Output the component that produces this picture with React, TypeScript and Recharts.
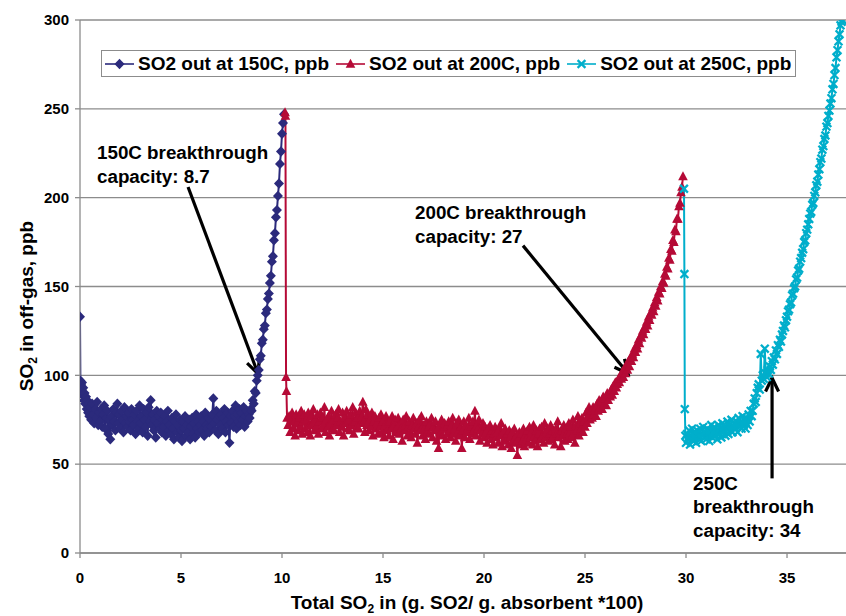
import React from 'react';
import { LineChart, Line, XAxis, YAxis, CartesianGrid, Legend, ReferenceLine } from 'recharts';

// SO2 breakthrough readings, [total SO2 in, ppb out]
const so2At150: [number, number][] = [
  [0, 133], [0.02, 97], [0.05, 95], [0.08, 92], [0.1, 96], [0.13, 89], [0.16, 93], [0.2, 86], [0.23, 90], [0.26, 84],
  [0.3, 88], [0.33, 81], [0.36, 86], [0.4, 79], [0.43, 84], [0.46, 77],
  [0.5, 82], [0.55, 75], [0.6, 84], [0.65, 78], [0.7, 73], [0.75, 81], [0.8, 76], [0.85, 85], [0.9, 72], [0.95, 79],
  [1.0, 74], [1.05, 81], [1.1, 71], [1.15, 78], [1.2, 83], [1.25, 70], [1.3, 76], [1.35, 80], [1.4, 67], [1.45, 75],
  [1.5, 64], [1.55, 77], [1.6, 72], [1.65, 81], [1.7, 74], [1.75, 69], [1.8, 79], [1.85, 84], [1.9, 73], [1.95, 78],
  [2.0, 70], [2.05, 80], [2.1, 75], [2.15, 68], [2.2, 82], [2.25, 73], [2.3, 77], [2.35, 71], [2.4, 79], [2.45, 74],
  [2.5, 69], [2.55, 81], [2.6, 75], [2.65, 72], [2.7, 78], [2.75, 67], [2.8, 80], [2.85, 74], [2.9, 70], [2.95, 83],
  [3.0, 73], [3.05, 77], [3.1, 68], [3.15, 81], [3.2, 75], [3.25, 71], [3.3, 79], [3.35, 66], [3.4, 82], [3.45, 74],
  [3.5, 86], [3.55, 72], [3.6, 78], [3.65, 69], [3.7, 75], [3.75, 65], [3.8, 80], [3.85, 73], [3.9, 77], [3.95, 70],
  [4.0, 79], [4.05, 68], [4.1, 75], [4.15, 71], [4.2, 77], [4.25, 66], [4.3, 74], [4.35, 80], [4.4, 69], [4.45, 72],
  [4.5, 67], [4.55, 76], [4.6, 70], [4.65, 64], [4.7, 74], [4.75, 78], [4.8, 68], [4.85, 72], [4.9, 65], [4.95, 75],
  [5.0, 69], [5.05, 63], [5.1, 74], [5.15, 70], [5.2, 77], [5.25, 66], [5.3, 72], [5.35, 68], [5.4, 75], [5.45, 64],
  [5.5, 71], [5.55, 76], [5.6, 67], [5.65, 73], [5.7, 65], [5.75, 78], [5.8, 70], [5.85, 74], [5.9, 68], [5.95, 72],
  [6.0, 77], [6.05, 69], [6.1, 74], [6.15, 66], [6.2, 79], [6.25, 72], [6.3, 70], [6.35, 76], [6.4, 68], [6.45, 75],
  [6.5, 71], [6.55, 78], [6.6, 87], [6.65, 73], [6.7, 69], [6.75, 80], [6.8, 75], [6.85, 67], [6.9, 77], [6.95, 72],
  [7.0, 78], [7.05, 70], [7.1, 76], [7.15, 81], [7.2, 68], [7.25, 74], [7.3, 79], [7.35, 72], [7.4, 62], [7.45, 77],
  [7.5, 73], [7.55, 80], [7.6, 71], [7.65, 77], [7.7, 83], [7.75, 70], [7.8, 78], [7.85, 74], [7.9, 81], [7.95, 72],
  [8.0, 79], [8.05, 75], [8.1, 82], [8.15, 71], [8.2, 77], [8.25, 80], [8.3, 74], [8.35, 78], [8.4, 76], [8.45, 81],
  [8.5, 80], [8.55, 86], [8.6, 84], [8.65, 91], [8.7, 90], [8.75, 97], [8.8, 100], [8.85, 103], [8.9, 109], [8.95, 111],
  [9.0, 118], [9.05, 120], [9.1, 126], [9.15, 128], [9.2, 135], [9.25, 137], [9.3, 143], [9.35, 146], [9.4, 152], [9.45, 156],
  [9.5, 164], [9.55, 167], [9.6, 176], [9.65, 180], [9.7, 189], [9.75, 193], [9.8, 201], [9.85, 208], [9.9, 219], [9.95, 226],
  [10.0, 236], [10.05, 242], [10.1, 247],
];

const so2At200: [number, number][] = [
  [10.15, 248], [10.17, 246], [10.2, 99], [10.22, 91], [10.25, 76],
  [10.3, 72], [10.35, 77], [10.4, 68], [10.45, 75], [10.5, 79], [10.55, 70], [10.6, 74], [10.65, 66], [10.7, 78], [10.75, 73],
  [10.8, 69], [10.85, 76], [10.9, 71], [10.95, 80], [11.0, 67], [11.05, 74], [11.1, 78], [11.15, 70], [11.2, 75], [11.25, 68],
  [11.3, 79], [11.35, 72], [11.4, 66], [11.45, 77], [11.5, 73], [11.55, 81], [11.6, 69], [11.65, 75], [11.7, 71], [11.75, 78],
  [11.8, 67], [11.85, 74], [11.9, 79], [11.95, 70], [12.0, 76], [12.05, 72], [12.1, 82], [12.15, 68], [12.2, 75], [12.25, 71],
  [12.3, 77], [12.35, 66], [12.4, 73], [12.45, 80], [12.5, 70], [12.55, 75], [12.6, 69], [12.65, 78], [12.7, 72], [12.75, 76],
  [12.8, 81], [12.85, 68], [12.9, 74], [12.95, 71], [13.0, 79], [13.05, 66], [13.1, 76], [13.15, 73], [13.2, 80], [13.25, 70],
  [13.3, 75], [13.35, 69], [13.4, 78], [13.45, 72], [13.5, 82], [13.55, 67], [13.6, 74], [13.65, 79], [13.7, 71], [13.75, 76],
  [13.8, 70], [13.85, 80], [13.9, 73], [13.95, 77], [14.0, 85], [14.05, 74], [14.1, 68], [14.15, 81], [14.2, 72], [14.25, 78],
  [14.3, 69], [14.35, 75], [14.4, 71], [14.45, 79], [14.5, 66], [14.55, 74], [14.6, 77], [14.65, 70], [14.7, 73], [14.75, 67],
  [14.8, 76], [14.85, 71], [14.9, 78], [14.95, 68], [15.0, 74], [15.05, 65], [15.1, 72], [15.15, 77], [15.2, 69], [15.25, 73],
  [15.3, 66], [15.35, 74], [15.4, 70], [15.45, 77], [15.5, 64], [15.55, 72], [15.6, 75], [15.65, 68], [15.7, 71], [15.75, 76],
  [15.8, 67], [15.85, 73], [15.9, 70], [15.95, 63], [16.0, 75], [16.05, 69], [16.1, 72], [16.15, 77], [16.2, 66], [16.25, 71],
  [16.3, 74], [16.35, 68], [16.4, 65], [16.45, 72], [16.5, 76], [16.55, 70], [16.6, 67], [16.65, 73], [16.7, 62], [16.75, 71],
  [16.8, 75], [16.85, 69], [16.9, 77], [16.95, 66], [17.0, 72], [17.05, 70], [17.1, 64], [17.15, 74], [17.2, 68], [17.25, 71],
  [17.3, 67], [17.35, 73], [17.4, 76], [17.45, 65], [17.5, 71], [17.55, 69], [17.6, 74], [17.65, 63], [17.7, 70], [17.75, 59],
  [17.8, 72], [17.85, 68], [17.9, 75], [17.95, 66], [18.0, 70], [18.05, 73], [18.1, 64], [18.15, 71], [18.2, 67], [18.25, 74],
  [18.3, 69], [18.35, 65], [18.4, 72], [18.45, 76], [18.5, 67], [18.55, 70], [18.6, 63], [18.65, 73], [18.7, 68], [18.75, 75],
  [18.8, 66], [18.85, 71], [18.9, 59], [18.95, 69], [19.0, 74], [19.05, 65], [19.1, 72], [19.15, 68], [19.2, 70], [19.25, 76],
  [19.3, 64], [19.35, 71], [19.4, 67], [19.45, 74], [19.5, 69], [19.55, 80], [19.6, 66], [19.65, 72], [19.7, 70], [19.75, 75],
  [19.8, 63], [19.85, 69], [19.9, 67], [19.95, 73], [20.0, 65], [20.05, 71], [20.1, 68], [20.15, 62], [20.2, 70], [20.25, 66],
  [20.3, 72], [20.35, 64], [20.4, 69], [20.45, 61], [20.5, 67], [20.55, 71], [20.6, 65], [20.65, 68], [20.7, 62], [20.75, 70],
  [20.8, 66], [20.85, 73], [20.9, 60], [20.95, 68], [21.0, 64], [21.05, 70], [21.1, 63], [21.15, 67], [21.2, 61], [21.25, 69],
  [21.3, 65], [21.35, 59], [21.4, 68], [21.45, 63], [21.5, 70], [21.55, 62], [21.6, 66], [21.65, 55], [21.7, 64], [21.75, 68],
  [21.8, 61], [21.85, 67], [21.9, 63], [21.95, 70], [22.0, 60], [22.05, 66], [22.1, 64], [22.15, 69], [22.2, 62], [22.25, 71],
  [22.3, 65], [22.35, 68], [22.4, 61], [22.45, 72], [22.5, 66], [22.55, 63], [22.6, 69], [22.65, 60], [22.7, 67], [22.75, 70],
  [22.8, 64], [22.85, 71], [22.9, 66], [22.95, 62], [23.0, 73], [23.05, 65], [23.1, 68], [23.15, 70], [23.2, 63], [23.25, 67],
  [23.3, 72], [23.35, 64], [23.4, 69], [23.45, 66], [23.5, 61], [23.55, 70], [23.6, 67], [23.65, 74], [23.7, 65], [23.75, 68],
  [23.8, 60], [23.85, 69], [23.9, 66], [23.95, 72], [24.0, 63], [24.05, 70], [24.1, 67], [24.15, 64], [24.2, 73], [24.25, 68],
  [24.3, 71], [24.35, 65], [24.4, 75], [24.45, 68], [24.5, 62], [24.55, 72], [24.6, 69], [24.65, 77], [24.7, 66], [24.75, 73],
  [24.8, 70], [24.85, 76], [24.9, 68], [24.95, 74], [25.0, 71], [25.05, 79], [25.1, 73], [25.15, 77], [25.2, 82], [25.25, 75],
  [25.3, 80], [25.35, 76], [25.4, 82], [25.45, 78], [25.5, 81], [25.55, 77], [25.6, 84], [25.65, 80], [25.7, 86], [25.75, 82],
  [25.8, 85], [25.85, 81], [25.9, 88], [25.95, 84], [26.0, 87], [26.05, 83], [26.1, 90], [26.15, 86], [26.2, 89], [26.25, 88],
  [26.3, 92], [26.35, 89], [26.4, 94], [26.45, 91], [26.5, 96], [26.55, 93], [26.6, 95], [26.65, 98], [26.7, 96], [26.75, 100],
  [26.8, 98], [26.85, 102], [26.9, 99], [26.95, 104], [27.0, 101], [27.05, 106], [27.1, 103], [27.15, 108], [27.2, 105], [27.25, 110],
  [27.3, 108], [27.35, 112], [27.4, 110], [27.45, 115], [27.5, 113], [27.55, 117], [27.6, 115], [27.65, 120], [27.7, 118], [27.75, 122],
  [27.8, 121], [27.85, 125], [27.9, 123], [27.95, 127], [28.0, 126], [28.05, 130], [28.1, 128], [28.15, 133], [28.2, 131], [28.25, 135],
  [28.3, 134], [28.35, 138], [28.4, 136], [28.45, 141], [28.5, 139], [28.55, 144], [28.6, 142], [28.65, 147], [28.7, 146], [28.75, 150],
  [28.8, 149], [28.85, 153], [28.9, 152], [28.95, 157], [29.0, 156], [29.05, 161], [29.1, 160], [29.15, 166], [29.2, 165], [29.25, 171],
  [29.3, 170], [29.35, 176], [29.4, 175], [29.45, 182], [29.5, 181], [29.55, 188], [29.6, 188], [29.65, 195], [29.7, 197], [29.75, 203],
  [29.8, 206], [29.85, 212],
];

const so2At250: [number, number][] = [
  [29.9, 205], [29.92, 157], [29.94, 81], [29.97, 66],
  [30.0, 62], [30.05, 67], [30.1, 64], [30.15, 69], [30.2, 61], [30.25, 66], [30.3, 70], [30.35, 63], [30.4, 68], [30.45, 65],
  [30.5, 62], [30.55, 69], [30.6, 66], [30.65, 64], [30.7, 70], [30.75, 63], [30.8, 67], [30.85, 71], [30.9, 65], [30.95, 68],
  [31.0, 64], [31.05, 70], [31.1, 66], [31.15, 63], [31.2, 69], [31.25, 72], [31.3, 65], [31.35, 68], [31.4, 71], [31.45, 66],
  [31.5, 69], [31.55, 64], [31.6, 72], [31.65, 67], [31.7, 70], [31.75, 65], [31.8, 73], [31.85, 68], [31.9, 71], [31.95, 66],
  [32.0, 70], [32.05, 74], [32.1, 67], [32.15, 72], [32.2, 69], [32.25, 75], [32.3, 68], [32.35, 71], [32.4, 73], [32.45, 70],
  [32.5, 74], [32.55, 68], [32.6, 76], [32.65, 71], [32.7, 73], [32.75, 70], [32.8, 77], [32.85, 72], [32.9, 75], [32.95, 70],
  [33.0, 76], [33.05, 72], [33.1, 78], [33.15, 74], [33.2, 80], [33.25, 77],
  [33.3, 80], [33.35, 84], [33.4, 87], [33.45, 85], [33.5, 90], [33.55, 93], [33.6, 95], [33.65, 92], [33.7, 112], [33.75, 97],
  [33.8, 100], [33.85, 98], [33.9, 115], [33.95, 101], [34.0, 99], [34.05, 103], [34.1, 101], [34.15, 105], [34.2, 103], [34.25, 108],
  [34.3, 106], [34.35, 110], [34.4, 109], [34.45, 114], [34.5, 112], [34.55, 117], [34.6, 116], [34.65, 120], [34.7, 119], [34.75, 123],
  [34.8, 125], [34.85, 128], [34.9, 127], [34.95, 131], [35.0, 133], [35.05, 136], [35.1, 137], [35.15, 140], [35.2, 141], [35.25, 145],
  [35.3, 146], [35.35, 149], [35.4, 150], [35.45, 154], [35.5, 155], [35.55, 159], [35.6, 160], [35.65, 164], [35.7, 166], [35.75, 169],
  [35.8, 171], [35.85, 175], [35.9, 176], [35.95, 180], [36.0, 182], [36.05, 185], [36.1, 188], [36.15, 191], [36.2, 192], [36.25, 196],
  [36.3, 197], [36.35, 201], [36.4, 203], [36.45, 207], [36.5, 209], [36.55, 213], [36.6, 216], [36.65, 220], [36.7, 222], [36.75, 227],
  [36.8, 229], [36.85, 233], [36.9, 235], [36.95, 240], [37.0, 242], [37.05, 246], [37.1, 249], [37.15, 253], [37.2, 256], [37.25, 261],
  [37.3, 264], [37.35, 269], [37.4, 273], [37.45, 279], [37.5, 283], [37.55, 288], [37.6, 292], [37.65, 297], [37.7, 299], [37.75, 300],
];

const xTicks = [0, 5, 10, 15, 20, 25, 30, 35];
const yTicks = [0, 50, 100, 150, 200, 250, 300];
const seriesNames = ['SO2 out at 150C, ppb', 'SO2 out at 200C, ppb', 'SO2 out at 250C, ppb'];
const seriesColors = ['#2b2a7c', '#b50a36', '#00aecb'];

// breakthrough arrows: [from, to] in data units
const arrows = [
  [{ x: 5.35, y: 206 }, { x: 8.81, y: 101 }],
  [{ x: 21.93, y: 173 }, { x: 27.13, y: 101 }],
  [{ x: 34.26, y: 42 }, { x: 34.26, y: 98.5 }],
];

const FONT = '"Liberation Sans", Arial, sans-serif';
const GRID = '#8c8c8c';

const toRows = (pts: [number, number][]) => pts.map(([x, y]) => ({ x, y }));

const Marker = ({ kind, cx, cy, color }: { kind: number; cx: number; cy: number; color: string }) => {
  if (kind === 0) {
    return <polygon points={`${cx},${cy - 5.2} ${cx + 5},${cy} ${cx},${cy + 5.2} ${cx - 5},${cy}`} fill={color} />;
  }
  if (kind === 1) {
    return <polygon points={`${cx},${cy - 5.2} ${cx + 4.8},${cy + 3.8} ${cx - 4.8},${cy + 3.8}`} fill={color} />;
  }
  return (
    <g stroke={color} strokeWidth={2.3}>
      <line x1={cx - 3.9} y1={cy - 3.9} x2={cx + 3.9} y2={cy + 3.9} />
      <line x1={cx - 3.9} y1={cy + 3.9} x2={cx + 3.9} y2={cy - 3.9} />
    </g>
  );
};

const makeDot = (kind: number) => (props: any) => {
  const { cx, cy, index } = props;
  if (cx == null || cy == null) return <g key={`d${kind}-${index}`} />;
  return (
    <g key={`d${kind}-${index}`}>
      <Marker kind={kind} cx={cx} cy={cy} color={seriesColors[kind]} />
    </g>
  );
};

const Arrow = (props: any) => {
  const { x1, y1, x2, y2 } = props;
  const ang = Math.atan2(y2 - y1, x2 - x1);
  const len = 15;
  const spread = 0.45;
  const ax = x2 - len * Math.cos(ang - spread);
  const ay = y2 - len * Math.sin(ang - spread);
  const bx = x2 - len * Math.cos(ang + spread);
  const by = y2 - len * Math.sin(ang + spread);
  return (
    <g stroke="#000" strokeWidth={3.2} fill="none">
      <line x1={x1} y1={y1} x2={x2} y2={y2} />
      <polyline points={`${ax},${ay} ${x2},${y2} ${bx},${by}`} />
    </g>
  );
};

const LegendBox = () => (
  <div
    style={{
      display: 'flex',
      alignItems: 'center',
      height: 25,
      border: `1.5px solid ${GRID}`,
      background: '#fff',
      fontFamily: FONT,
      fontWeight: 'bold',
      fontSize: 19,
      color: '#000',
      paddingLeft: 3,
      paddingRight: 4,
      whiteSpace: 'nowrap',
    }}
  >
    {seriesNames.map((name, i) => (
      <div key={name} style={{ display: 'flex', alignItems: 'center', marginRight: i < 2 ? 7 : 0 }}>
        <svg width={29} height={14} style={{ marginRight: 4 }}>
          <line x1={0} y1={7} x2={29} y2={7} stroke={seriesColors[i]} strokeWidth={1.6} />
          <Marker kind={i} cx={14.5} cy={7} color={seriesColors[i]} />
        </svg>
        <span>{name}</span>
      </div>
    ))}
  </div>
);

const noteStyle = { fontFamily: FONT, fontWeight: 'bold' as const, fontSize: 18.8, fill: '#000' };
const titleStyle = { fontFamily: FONT, fontWeight: 'bold' as const, fontSize: 19, fill: '#000' };

export default function App() {
  const tick = { fontFamily: FONT, fontWeight: 'bold', fontSize: 15, fill: '#000' };
  return (
    <div style={{ position: 'absolute', left: 0, top: 0, width: 846, height: 616, overflow: 'hidden', background: '#fff' }}>
      <LineChart width={846} height={616} margin={{ top: 20, right: 0, left: 10, bottom: 23 }}>
        <CartesianGrid vertical={false} stroke={GRID} strokeWidth={1.3} />
        <XAxis
          type="number"
          dataKey="x"
          domain={[0, 37.92]}
          ticks={xTicks}
          allowDataOverflow
          tick={tick}
          tickSize={5}
          tickMargin={14}
          height={40}
          axisLine={{ stroke: GRID, strokeWidth: 1.3 }}
          tickLine={{ stroke: GRID, strokeWidth: 1.3 }}
        />
        <YAxis
          type="number"
          domain={[0, 300]}
          ticks={yTicks}
          allowDataOverflow
          tick={tick}
          tickSize={5}
          tickMargin={6}
          width={70}
          axisLine={{ stroke: GRID, strokeWidth: 1.3 }}
          tickLine={{ stroke: GRID, strokeWidth: 1.3 }}
        />
        <Legend
          layout="horizontal"
          verticalAlign="middle"
          align="center"
          wrapperStyle={{ left: 101, top: 50, width: 'auto' }}
          content={() => <LegendBox />}
        />
        {[so2At150, so2At200, so2At250].map((pts, i) => (
          <Line
            key={seriesNames[i]}
            data={toRows(pts)}
            dataKey="y"
            name={seriesNames[i]}
            type="linear"
            stroke={seriesColors[i]}
            strokeWidth={2}
            dot={makeDot(i)}
            activeDot={false}
            isAnimationActive={false}
          />
        ))}
        {arrows.map((seg, i) => (
          <ReferenceLine key={`arrow${i}`} segment={seg} shape={Arrow} ifOverflow="visible" />
        ))}
      </LineChart>
      <svg width={846} height={616} style={{ position: 'absolute', left: 0, top: 0, pointerEvents: 'none' }}>
        <text {...noteStyle} x={97} y={159}>150C breakthrough</text>
        <text {...noteStyle} x={97} y={183}>capacity: 8.7</text>
        <text {...noteStyle} x={415} y={219}>200C breakthrough</text>
        <text {...noteStyle} x={415} y={243}>capacity: 27</text>
        <text {...noteStyle} x={693} y={490}>250C</text>
        <text {...noteStyle} x={693} y={513}>breakthrough</text>
        <text {...noteStyle} x={693} y={537}>capacity: 34</text>
        <text {...titleStyle} x={467} y={609} textAnchor="middle">
          Total SO<tspan fontSize={12} dy={4}>2</tspan>
          <tspan dy={-4}> in (g. SO2/ g. absorbent *100)</tspan>
        </text>
        <text {...titleStyle} transform="translate(33,306) rotate(-90)" textAnchor="middle">
          SO<tspan fontSize={12} dy={4}>2</tspan>
          <tspan dy={-4}> in off-gas, ppb</tspan>
        </text>
      </svg>
    </div>
  );
}
